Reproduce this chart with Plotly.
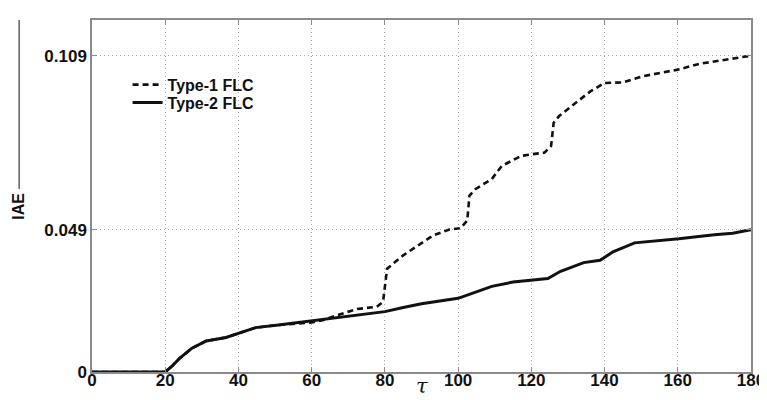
import plotly.graph_objects as go

# Type-1 FLC (dashed)
tau_t1 = [0, 20, 22, 24, 27.3, 31.2, 36.6, 40, 44.7, 50.9, 60, 63, 67, 72.4, 77.8, 79.5, 80, 80.6,
          85, 88.5, 93.1, 97.6, 100.7, 102.5, 103.1, 104.7, 109.2, 111.9, 115.5, 117.3, 120, 123.6,
          125.4, 126.1, 127.6, 131.6, 136.1, 140, 145, 150.4, 160, 166, 173, 180]
iae_t1 = [0, 0, 0.0022, 0.0048, 0.0082, 0.0107, 0.0119, 0.0134, 0.0153, 0.0162, 0.0171, 0.0178,
          0.0196, 0.0217, 0.0225, 0.0242, 0.0300, 0.0356, 0.0402, 0.0431, 0.0470, 0.0491, 0.0496,
          0.0522, 0.0608, 0.0630, 0.0665, 0.0710, 0.0733, 0.0745, 0.0750, 0.0756, 0.0779, 0.0859,
          0.0882, 0.0922, 0.0967, 0.0996, 0.0998, 0.1019, 0.1042, 0.1062, 0.1076, 0.1090]

# Type-2 FLC (solid)
tau_t2 = [0, 20, 22, 24, 27.3, 31.2, 36.6, 40, 44.7, 50.9, 60, 68.9, 80, 85, 90, 100, 109.2, 115,
          124.5, 128, 134.3, 138.8, 142.3, 148.2, 155, 160.3, 170, 175, 180]
iae_t2 = [0, 0, 0.0022, 0.0048, 0.0082, 0.0107, 0.0119, 0.0134, 0.0153, 0.0162, 0.0177, 0.0191,
          0.0208, 0.0222, 0.0235, 0.0254, 0.0295, 0.0310, 0.0322, 0.0347, 0.0377, 0.0385, 0.0414,
          0.0445, 0.0452, 0.0459, 0.0473, 0.0478, 0.0490]

x_ticks = [0, 20, 40, 60, 80, 100, 120, 140, 160, 180]
y_ticks = [0, 0.049, 0.109]
y_tick_labels = ["0", "0.049", "0.109"]

FONT = "Liberation Sans"

fig = go.Figure()
fig.add_trace(go.Scatter(x=tau_t1, y=iae_t1, mode="lines", name="Type-1 FLC", legend="legend",
                         line=dict(color="#111111", width=2.6, dash="6px,4px")))
fig.add_trace(go.Scatter(x=tau_t2, y=iae_t2, mode="lines", name="Type-2 FLC", legend="legend2",
                         line=dict(color="#111111", width=3)))

axis_common = dict(
    showline=True, linecolor="#8a8a8a", linewidth=1.5, mirror="ticks",
    ticks="inside", ticklen=5, tickcolor="#8a8a8a",
    showgrid=True, gridcolor="#aaaaaa", gridwidth=1, griddash="1px,3px",
    zeroline=False, ticklabeloverflow="allow",
    tickfont=dict(family=FONT, size=17, color="#111111", weight="bold"),
)

fig.update_xaxes(range=[0, 180], tickvals=x_ticks, ticklabelstandoff=-8, **axis_common)
fig.update_yaxes(range=[0, 0.1213], tickvals=y_ticks, ticktext=y_tick_labels, **axis_common)

legend_common = dict(xanchor="left", yanchor="middle", bgcolor="rgba(0,0,0,0)", borderwidth=0,
                     font=dict(family=FONT, size=16, color="#111111", weight="bold"),
                     itemwidth=30)

fig.update_layout(
    width=767, height=400,
    margin=dict(l=84, r=14, t=10, b=36),
    paper_bgcolor="white", plot_bgcolor="white",
    showlegend=True,
    legend=dict(x=0.054, y=0.816, **legend_common),
    legend2=dict(x=0.054, y=0.765, **legend_common),
    annotations=[
        dict(text="τ", xref="paper", yref="paper", x=0.5, y=-0.04, xanchor="center",
             yanchor="middle", showarrow=False,
             font=dict(family="DejaVu Serif", size=21, color="#111111", style="italic")),
        dict(text="IAE", xref="paper", yref="paper", x=-0.112, y=0.47, xanchor="center",
             yanchor="middle", showarrow=False, textangle=-90,
             font=dict(family=FONT, size=16, color="#111111", weight="bold")),
    ],
    shapes=[
        dict(type="line", xref="paper", yref="paper", x0=-0.1106, x1=-0.1106, y0=1.0, y1=0.52,
             line=dict(color="#111111", width=1)),
    ],
)

fig.write_html("out.html")
